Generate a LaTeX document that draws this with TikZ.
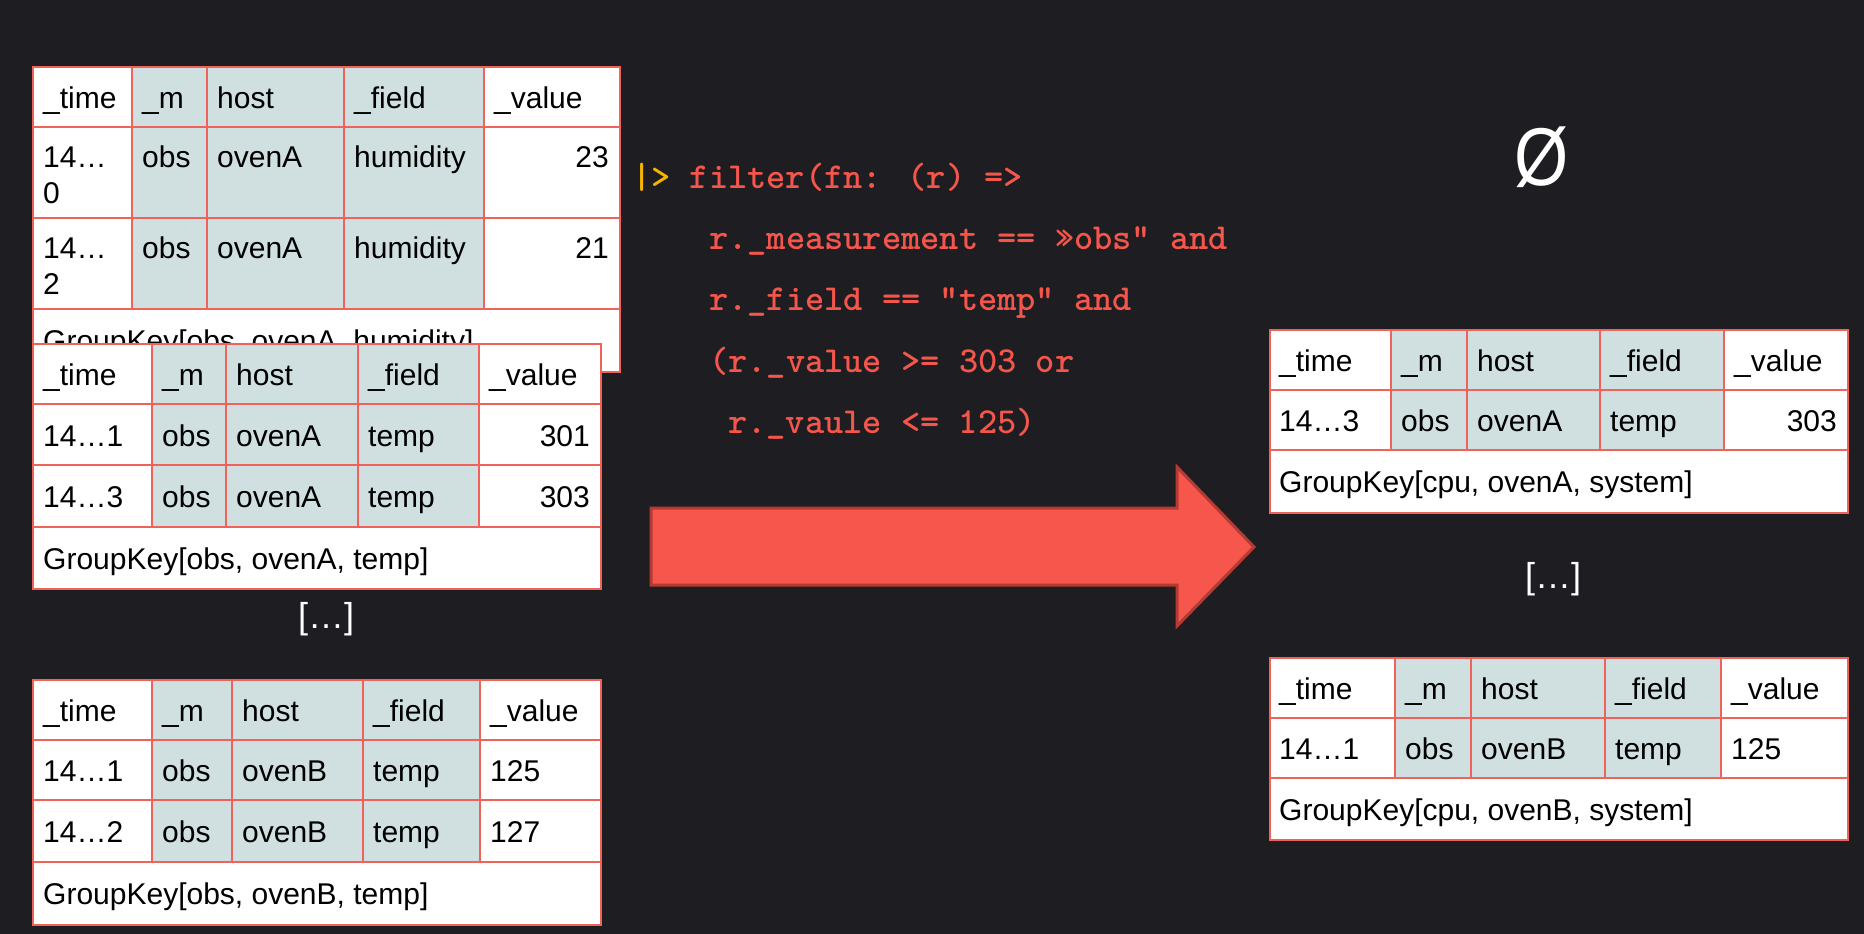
\documentclass[tikz,border=0pt]{standalone}
\usepackage{fontspec}
\setmainfont{Liberation Sans}
\definecolor{bgc}{HTML}{1E1D22}
\definecolor{gridc}{HTML}{F0635A}
\definecolor{tealc}{HTML}{D0E0E0}
\definecolor{codec}{HTML}{F4564B}
\definecolor{yelc}{HTML}{F4B400}
\definecolor{arrfill}{HTML}{F6564B}
\definecolor{arrline}{HTML}{B53A32}
\tikzset{
  gridline/.style={draw=gridc, line width=2pt},
  txt/.style={inner sep=0pt, text=black, font=\fontsize{30}{36}\selectfont},
  codetxt/.style={inner sep=0pt, text=codec, font=\fontsize{36.6}{40}\selectfont\ttfamily\bfseries, anchor=base west},
  dots/.style={inner sep=0pt, text=white, font=\fontsize{36}{40}\selectfont},
}
\newcommand\cellL[4]{\node[txt,anchor=base west] (#1) at (#2,#3) {#4};}
\newcommand\cellR[4]{\node[txt,anchor=base east] (#1) at (#2,#3) {#4};}
\begin{document}
\begin{tikzpicture}[x=1pt,y=-1pt]
\fill[bgc] (0,0) rectangle (1864,934);
\useasboundingbox (0,0) rectangle (1864,934);

% ---------- Table 1 (humidity) ----------
\fill[white] (33,67) rectangle (620,372);
\fill[tealc] (132,67) rectangle (484,309);
\draw[gridline] (33,67) rectangle (620,372);
\draw[gridline] (33,127) -- (620,127) (33,218) -- (620,218) (33,309) -- (620,309);
\draw[gridline] (132,67) -- (132,309) (207,67) -- (207,309) (344,67) -- (344,309) (484,67) -- (484,309);
\cellL{a11}{43}{108}{\_time}
\cellL{a12}{142}{108}{\_m}
\cellL{a13}{217}{108}{host}
\cellL{a14}{354}{108}{\_field}
\cellL{a15}{494}{108}{\_value}
\cellL{a21}{43}{167}{14…}
\cellL{a21b}{43}{203}{0}
\cellL{a22}{142}{167}{obs}
\cellL{a23}{217}{167}{ovenA}
\cellL{a24}{354}{167}{humidity}
\cellR{a25}{609}{167}{23}
\cellL{a31}{43}{258}{14…}
\cellL{a31b}{43}{294}{2}
\cellL{a32}{142}{258}{obs}
\cellL{a33}{217}{258}{ovenA}
\cellL{a34}{354}{258}{humidity}
\cellR{a35}{609}{258}{21}
\cellL{a4}{43}{351}{GroupKey[obs, ovenA, humidity]}

% ---------- Table 2 (ovenA temp) ----------
\fill[white] (33,344) rectangle (601,589);
\fill[tealc] (152,344) rectangle (479,527);
\draw[gridline] (33,344) rectangle (601,589);
\draw[gridline] (33,404) -- (601,404) (33,465) -- (601,465) (33,527) -- (601,527);
\draw[gridline] (152,344) -- (152,527) (226,344) -- (226,527) (358,344) -- (358,527) (479,344) -- (479,527);
\cellL{b11}{43}{385}{\_time}
\cellL{b12}{162}{385}{\_m}
\cellL{b13}{236}{385}{host}
\cellL{b14}{368}{385}{\_field}
\cellL{b15}{489}{385}{\_value}
\cellL{b21}{43}{446}{14…1}
\cellL{b22}{162}{446}{obs}
\cellL{b23}{236}{446}{ovenA}
\cellL{b24}{368}{446}{temp}
\cellR{b25}{590}{446}{301}
\cellL{b31}{43}{507}{14…3}
\cellL{b32}{162}{507}{obs}
\cellL{b33}{236}{507}{ovenA}
\cellL{b34}{368}{507}{temp}
\cellR{b35}{590}{507}{303}
\cellL{b4}{43}{569}{GroupKey[obs, ovenA, temp]}

\node[dots] (ldots) at (326,619) {[…]};

% ---------- Table 3 (ovenB temp) ----------
\fill[white] (33,680) rectangle (601,925);
\fill[tealc] (152,680) rectangle (480,862);
\draw[gridline] (33,680) rectangle (601,925);
\draw[gridline] (33,740) -- (601,740) (33,800) -- (601,800) (33,862) -- (601,862);
\draw[gridline] (152,680) -- (152,862) (232,680) -- (232,862) (363,680) -- (363,862) (480,680) -- (480,862);
\cellL{c11}{43}{721}{\_time}
\cellL{c12}{162}{721}{\_m}
\cellL{c13}{242}{721}{host}
\cellL{c14}{373}{721}{\_field}
\cellL{c15}{490}{721}{\_value}
\cellL{c21}{43}{781}{14…1}
\cellL{c22}{162}{781}{obs}
\cellL{c23}{242}{781}{ovenB}
\cellL{c24}{373}{781}{temp}
\cellL{c25}{490}{781}{125}
\cellL{c31}{43}{842}{14…2}
\cellL{c32}{162}{842}{obs}
\cellL{c33}{242}{842}{ovenB}
\cellL{c34}{373}{842}{temp}
\cellL{c35}{490}{842}{127}
\cellL{c4}{43}{904}{GroupKey[obs, ovenB, temp]}

% ---------- Code ----------
\node[codetxt] (code1) at (632,188) {\textcolor{yelc}{|>} filter(fn: (r) =>};
\node[codetxt] (code2) at (709,249) {r.\_measurement == »obs" and};
\node[codetxt] (code3) at (709,310) {r.\_field == "temp" and};
\node[codetxt] (code4) at (709,372) {(r.\_value >= 303 or};
\node[codetxt] (code5) at (728,433) {r.\_vaule <= 125)};

% ---------- Arrow ----------
\filldraw[fill=arrfill, draw=arrline, line width=3pt, line join=miter]
  (651,508) -- (1177,508) -- (1177,467) -- (1254,547) -- (1177,626) -- (1177,585) -- (651,585) -- cycle;

% ---------- Right side ----------
\node[inner sep=0pt, text=white, font=\fontsize{82}{82}\selectfont] (empty) at (1542,157) {\scalebox{0.85}[1]{Ø}};

% Table R1
\fill[white] (1270,330) rectangle (1848,513);
\fill[tealc] (1391,330) rectangle (1724,450);
\draw[gridline] (1270,330) rectangle (1848,513);
\draw[gridline] (1270,390) -- (1848,390) (1270,450) -- (1848,450);
\draw[gridline] (1391,330) -- (1391,450) (1467,330) -- (1467,450) (1600,330) -- (1600,450) (1724,330) -- (1724,450);
\cellL{d11}{1279}{371}{\_time}
\cellL{d12}{1401}{371}{\_m}
\cellL{d13}{1477}{371}{host}
\cellL{d14}{1610}{371}{\_field}
\cellL{d15}{1734}{371}{\_value}
\cellL{d21}{1279}{431}{14…3}
\cellL{d22}{1401}{431}{obs}
\cellL{d23}{1477}{431}{ovenA}
\cellL{d24}{1610}{431}{temp}
\cellR{d25}{1837}{431}{303}
\cellL{d3}{1279}{492}{GroupKey[cpu, ovenA, system]}

\node[dots] (rdots) at (1553,579) {[…]};

% Table R2
\fill[white] (1270,658) rectangle (1848,840);
\fill[tealc] (1395,658) rectangle (1721,778);
\draw[gridline] (1270,658) rectangle (1848,840);
\draw[gridline] (1270,718) -- (1848,718) (1270,778) -- (1848,778);
\draw[gridline] (1395,658) -- (1395,778) (1471,658) -- (1471,778) (1605,658) -- (1605,778) (1721,658) -- (1721,778);
\cellL{e11}{1279}{699}{\_time}
\cellL{e12}{1405}{699}{\_m}
\cellL{e13}{1481}{699}{host}
\cellL{e14}{1615}{699}{\_field}
\cellL{e15}{1731}{699}{\_value}
\cellL{e21}{1279}{759}{14…1}
\cellL{e22}{1405}{759}{obs}
\cellL{e23}{1481}{759}{ovenB}
\cellL{e24}{1615}{759}{temp}
\cellL{e25}{1731}{759}{125}
\cellL{e3}{1279}{820}{GroupKey[cpu, ovenB, system]}
\end{tikzpicture}
\end{document}
